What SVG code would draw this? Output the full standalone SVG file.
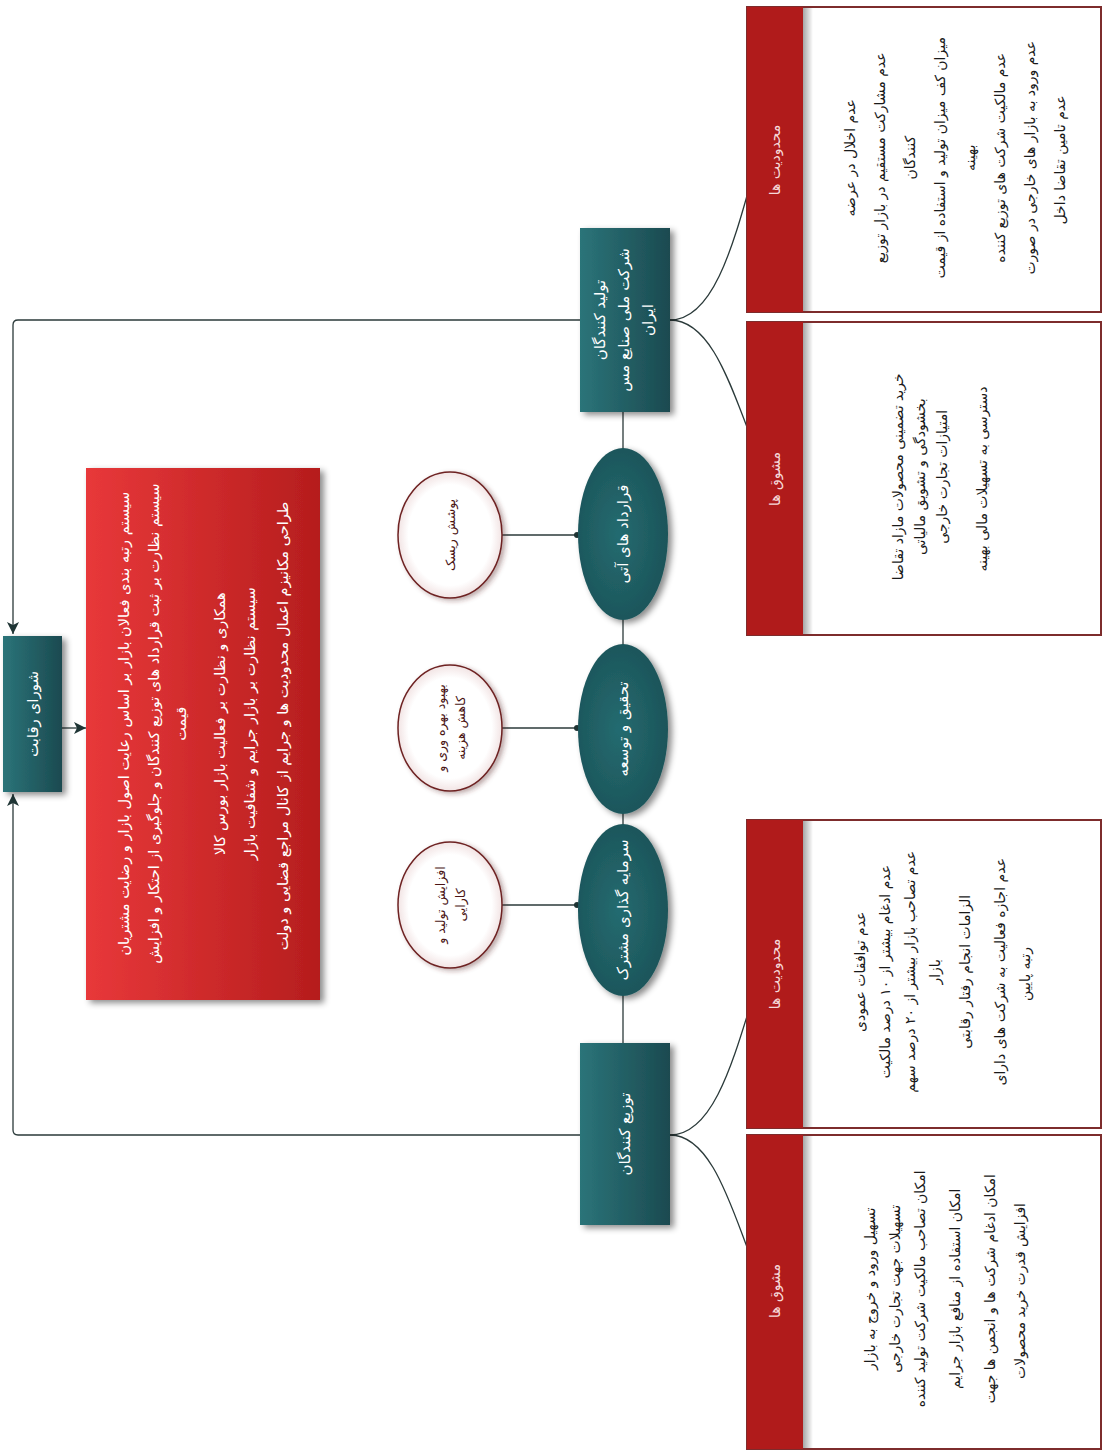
<svg xmlns="http://www.w3.org/2000/svg" width="1104" height="1452" viewBox="0 0 1104 1452">
<style>
text{font-family:'DejaVu Sans',sans-serif;text-anchor:middle;dominant-baseline:central}
.wt{fill:#ffffff;font-size:15px}
.rt{fill:#ffffff;font-size:14.5px}
.bt{fill:#1a1a1a;font-size:14px}
.ct{fill:#4a1515;font-size:12.5px}
.hd{fill:#f6d8d8;font-size:14px}
.conn{fill:none;stroke:#2b3a3a;stroke-width:1.3}
.teal{fill:url(#tealG);filter:url(#sh)}
.tell{fill:url(#tealE);filter:url(#sh)}
.circ{fill:url(#circG);stroke:#6e2323;stroke-width:1.5;filter:url(#sh2)}
.body{fill:#ffffff;stroke:#7d2c2c;stroke-width:2}
.head{fill:#b01b1b}
</style>
<defs>
<linearGradient id="tealG" x1="0" y1="0" x2="1" y2="0"><stop offset="0" stop-color="#2b7479"/><stop offset="1" stop-color="#1b4a50"/></linearGradient>
<radialGradient id="tealE" cx="0.45" cy="0.5" r="0.7"><stop offset="0" stop-color="#246b70"/><stop offset="1" stop-color="#1a4e53"/></radialGradient>
<linearGradient id="redG" x1="0" y1="0" x2="1" y2="0"><stop offset="0" stop-color="#e8383a"/><stop offset="1" stop-color="#b51d1d"/></linearGradient>
<radialGradient id="circG"><stop offset="0.8" stop-color="#ffffff"/><stop offset="1" stop-color="#f2e4e4"/></radialGradient>
<linearGradient id="hdSh" x1="0" y1="0" x2="1" y2="0"><stop offset="0" stop-color="#000" stop-opacity="0.35"/><stop offset="1" stop-color="#000" stop-opacity="0"/></linearGradient>
<filter id="sh" x="-20%" y="-20%" width="150%" height="150%"><feDropShadow dx="4" dy="3" stdDeviation="3" flood-color="#000" flood-opacity="0.45"/></filter>
<filter id="sh2" x="-20%" y="-20%" width="150%" height="150%"><feDropShadow dx="3" dy="2" stdDeviation="2.5" flood-color="#5a2020" flood-opacity="0.4"/></filter>
<marker id="arr" viewBox="0 0 12 12" refX="12" refY="6" markerUnits="userSpaceOnUse" markerWidth="12" markerHeight="12" orient="auto"><path d="M0,0 L12,6 L0,12 L3,6 z" fill="#1f3535"/></marker>
</defs>

<g id="connectors">
<path class="conn" d="M580,320 H18 Q13,320 13,325 V634" marker-end="url(#arr)"/>
<path class="conn" d="M580,1135 H18 Q13,1135 13,1130 V794" marker-end="url(#arr)"/>
<path class="conn" d="M62,728 H86" marker-end="url(#arr)"/>
<path class="conn" d="M623,412 V1043"/>
<path class="conn" d="M502,535 H578"/>
<path class="conn" d="M502,728 H578"/>
<path class="conn" d="M502,905 H578"/>
<circle cx="577" cy="535" r="3" fill="#1f3535"/>
<circle cx="577" cy="728" r="3" fill="#1f3535"/>
<circle cx="577" cy="905" r="3" fill="#1f3535"/>
<path class="conn" d="M670,320 C712,320 732,250 752,178"/>
<path class="conn" d="M670,320 C712,320 732,390 752,440"/>
<path class="conn" d="M670,1135 C712,1135 732,1065 752,1000"/>
<path class="conn" d="M670,1135 C712,1135 732,1210 752,1260"/>
</g>

<g id="shoura">
<rect class="teal" x="3" y="636" width="59" height="156"/>
<g transform="translate(0,714) rotate(-90)"><text class="wt" direction="rtl"><tspan x="0" y="33">شورای رقابت</tspan></text></g>
</g>

<g id="policies">
<rect x="86" y="468" width="234" height="532" fill="url(#redG)" filter="url(#sh)"/>
<g transform="translate(0,726) rotate(-90)"><text class="rt" direction="rtl">
<tspan x="0" y="124">سیستم رتبه بندی فعالان بازار بر اساس رعایت اصول بازار و رضایت مشتریان</tspan>
<tspan x="0" y="154">سیستم نظارت بر ثبت قرارداد های توزیع کنندگان و جلوگیری از احتکار و افزایش</tspan>
<tspan x="0" y="181">قیمت</tspan>
<tspan x="0" y="220">همکاری و نظارت بر فعالیت بازار بورس کالا</tspan>
<tspan x="0" y="250">سیستم نظارت بر بازار جرایم و شفافیت بازار</tspan>
<tspan x="0" y="283">طراحی مکانیزم اعمال محدودیت ها و جرایم از کانال مراجع قضایی و دولت</tspan>
</text></g>
</g>

<g id="risk">
<ellipse class="circ" cx="450" cy="535" rx="52" ry="63"/>
<g transform="translate(0,535) rotate(-90)"><text class="ct" direction="rtl"><tspan x="0" y="450">پوشش ریسک</tspan></text></g>
</g>
<g id="efficiency">
<ellipse class="circ" cx="450" cy="728" rx="52" ry="63"/>
<g transform="translate(0,728) rotate(-90)"><text class="ct" direction="rtl"><tspan x="0" y="440">بهبود بهره وری و</tspan><tspan x="0" y="460">کاهش هزینه</tspan></text></g>
</g>
<g id="production">
<ellipse class="circ" cx="450" cy="905" rx="52" ry="63"/>
<g transform="translate(0,905) rotate(-90)"><text class="ct" direction="rtl"><tspan x="0" y="440">افزایش تولید و</tspan><tspan x="0" y="460">کارایی</tspan></text></g>
</g>

<g id="futures">
<ellipse class="tell" cx="623" cy="534" rx="45" ry="86"/>
<g transform="translate(0,534) rotate(-90)"><text class="wt" direction="rtl"><tspan x="0" y="623">قرارداد های آتی</tspan></text></g>
</g>
<g id="rnd">
<ellipse class="tell" cx="623" cy="729" rx="45" ry="85"/>
<g transform="translate(0,729) rotate(-90)"><text class="wt" direction="rtl"><tspan x="0" y="623">تحقیق و توسعه</tspan></text></g>
</g>
<g id="joint">
<ellipse class="tell" cx="623" cy="910" rx="45" ry="86"/>
<g transform="translate(0,910) rotate(-90)"><text class="wt" direction="rtl"><tspan x="0" y="623">سرمایه گذاری مشترک</tspan></text></g>
</g>

<g id="producers">
<rect class="teal" x="580" y="228" width="90" height="184"/>
<g transform="translate(0,320) rotate(-90)"><text class="wt" direction="rtl"><tspan x="0" y="600">تولید کنندگان</tspan><tspan x="0" y="624">شرکت ملی صنایع مس</tspan><tspan x="0" y="648">ایران</tspan></text></g>
</g>
<g id="distributors">
<rect class="teal" x="580" y="1043" width="90" height="182"/>
<g transform="translate(0,1134) rotate(-90)"><text class="wt" direction="rtl"><tspan x="0" y="625">توزیع کنندگان</tspan></text></g>
</g>

<g id="prod-limits">
<rect class="body" x="747" y="7" width="354" height="305"/>
<rect class="head" x="747" y="7" width="56" height="305"/>
<rect x="803" y="8" width="10" height="303" fill="url(#hdSh)"/>
<g transform="translate(0,160) rotate(-90)"><text class="hd" direction="rtl"><tspan x="0" y="775">محدودیت ها</tspan></text></g>
<g transform="translate(0,160) rotate(-90)"><text class="bt" direction="rtl">
<tspan x="0" y="850">عدم اخلال در عرضه</tspan>
<tspan x="0" y="880">عدم مشارکت مستقیم در بازار توزیع</tspan>
<tspan x="0" y="910">کنندگان</tspan>
<tspan x="0" y="940">میزان کف میزان تولید و استفاده از قیمت</tspan>
<tspan x="0" y="970">بهینه</tspan>
<tspan x="0" y="1000">عدم مالکیت شرکت های توزیع کننده</tspan>
<tspan x="0" y="1030">عدم ورود به بازار های خارجی در صورت</tspan>
<tspan x="0" y="1060">عدم تامین تقاضا داخل</tspan>
</text></g>
</g>

<g id="prod-incentives">
<rect class="body" x="747" y="322" width="354" height="313"/>
<rect class="head" x="747" y="322" width="56" height="313"/>
<rect x="803" y="323" width="10" height="311" fill="url(#hdSh)"/>
<g transform="translate(0,479) rotate(-90)"><text class="hd" direction="rtl"><tspan x="0" y="775">مشوق ها</tspan></text></g>
<g transform="translate(0,479) rotate(-90)"><text class="bt" direction="rtl">
<tspan x="0" y="898">خرید تضمینی محصولات مازاد تقاضا</tspan>
<tspan x="0" y="920">بخشودگی و تشویق مالیاتی</tspan>
<tspan x="0" y="942">امتیازات تجارت خارجی</tspan>
<tspan x="0" y="982">دسترسی به تسهیلات مالی بهینه</tspan>
</text></g>
</g>

<g id="dist-limits">
<rect class="body" x="747" y="820" width="354" height="308"/>
<rect class="head" x="747" y="820" width="56" height="308"/>
<rect x="803" y="821" width="10" height="306" fill="url(#hdSh)"/>
<g transform="translate(0,974) rotate(-90)"><text class="hd" direction="rtl"><tspan x="0" y="775">محدودیت ها</tspan></text></g>
<g transform="translate(0,974) rotate(-90)"><text class="bt" direction="rtl">
<tspan x="0" y="860">عدم توافقات عمودی</tspan>
<tspan x="0" y="885">عدم ادغام بیشتر از ۱۰ درصد مالکیت</tspan>
<tspan x="0" y="910">عدم تصاحب بازار بیشتر از ۲۰ درصد سهم</tspan>
<tspan x="0" y="935">بازار</tspan>
<tspan x="0" y="965">الزامات انجام رفتار رقابتی</tspan>
<tspan x="0" y="1000">عدم اجازه فعالیت به شرکت های دارای</tspan>
<tspan x="0" y="1025">رتبه پایین</tspan>
</text></g>
</g>

<g id="dist-incentives">
<rect class="body" x="747" y="1135" width="354" height="314"/>
<rect class="head" x="747" y="1135" width="56" height="314"/>
<rect x="803" y="1136" width="10" height="312" fill="url(#hdSh)"/>
<g transform="translate(0,1291) rotate(-90)"><text class="hd" direction="rtl"><tspan x="0" y="775">مشوق ها</tspan></text></g>
<g transform="translate(0,1291) rotate(-90)"><text class="bt" direction="rtl">
<tspan x="0" y="870">تسهیل ورود و خروج به بازار</tspan>
<tspan x="0" y="895">تسهیلات جهت تجارت خارجی</tspan>
<tspan x="0" y="920">امکان تصاحب مالکیت شرکت تولید کننده</tspan>
<tspan x="0" y="955">امکان استفاده از منافع بازار جرایم</tspan>
<tspan x="0" y="990">امکان ادغام شرکت ها و انجمن ها جهت</tspan>
<tspan x="0" y="1020">افزایش قدرت خرید محصولات</tspan>
</text></g>
</g>
</svg>
